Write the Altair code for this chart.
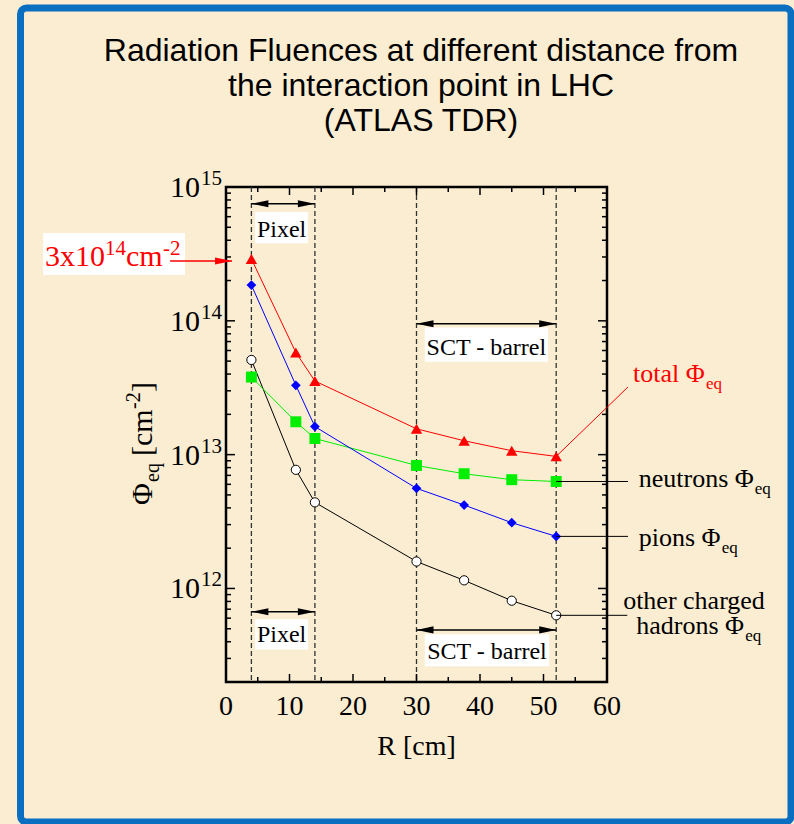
import altair as alt
import pandas as pd

# ---------------- data ----------------
R = [4, 11, 14, 30, 37.5, 45, 52]
total = [2.9e14, 5.8e13, 3.55e13, 1.56e13, 1.27e13, 1.07e13, 9.7e12]
pions = [1.85e14, 3.3e13, 1.62e13, 5.6e12, 4.2e12, 3.1e12, 2.45e12]
neutrons = [3.8e13, 1.76e13, 1.32e13, 8.3e12, 7.2e12, 6.5e12, 6.3e12]
other = [5.1e13, 7.7e12, 4.4e12, 1.59e12, 1.15e12, 8.1e11, 6.3e11]

x_ticks = [0, 10, 20, 30, 40, 50, 60]
x_major_inner = [10, 20, 30, 40, 50]
x_minor = [5, 15, 25, 35, 45, 55]
y_exponents = [12, 13, 14, 15]
y_major = [1e12, 1e13, 1e14]
y_minor = [3e11, 4e11, 5e11, 6e11, 7e11, 8e11, 9e11,
           2e12, 3e12, 4e12, 5e12, 6e12, 7e12, 8e12, 9e12,
           2e13, 3e13, 4e13, 5e13, 6e13, 7e13, 8e13, 9e13,
           2e14, 3e14, 4e14, 5e14, 6e14, 7e14, 8e14, 9e14]
region_edges = [4, 14, 30, 52]

# region arrows: start R, end R, level
arrow_x1 = [4, 4, 30, 30]
arrow_x2 = [14, 14, 52, 52]
arrow_phi = [7.5e14, 6.7e11, 9.5e13, 4.9e11]

# label boxes (R range, phi range) and texts
box_x1 = [4.6, 4.6, 31.3, 31.3]
box_x2 = [12.9, 12.9, 50.7, 50.9]
box_y1 = [3.8e14, 3.5e11, 4.95e13, 2.62e11]
box_y2 = [6.5e14, 5.9e11, 8.9e13, 4.55e11]
box_text = ["Pixel", "Pixel", "SCT - barrel", "SCT - barrel"]
box_tx = [8.75, 8.75, 41.0, 41.1]
box_ty = [4.2e14, 3.95e11, 5.6e13, 2.95e11]

TITLE = ["Radiation Fluences at different distance from",
         "the interaction point in LHC",
         "(ATLAS TDR)"]

W, H = 381, 495
OX, OY = 226, 187
SERIF = "Liberation Serif"
BG = "#FAEDD2"

xs = alt.Scale(domain=[0, 60], nice=False, zero=False)
ys = alt.Scale(type="log", domain=[2e11, 1e15], nice=False)


def X(f):
    return alt.X(f, type="quantitative", scale=xs, axis=None)


def Y(f):
    return alt.Y(f, type="quantitative", scale=ys, axis=None)


def one(**kw):
    return pd.DataFrame([kw])


def note(text, r, phi, size=26, color="black", align="left", dx=0, dy=0):
    return alt.Chart(one(R=r, phi=phi)).mark_text(
        text=text, fontSize=size, color=color, align=align,
        baseline="alphabetic", dx=dx, dy=dy, font=SERIF
    ).encode(x=X("R"), y=Y("phi"))


def pix_text(text, px, py, size, color="black", align="left", angle=0, dx=0, dy=0,
             font=SERIF, **kw):
    props = dict(text=text, fontSize=size, color=color, align=align,
                 baseline="alphabetic", font=font, dx=dx, dy=dy, **kw)
    if angle:
        props["angle"] = angle
    return alt.Chart(one(a=0)).mark_text(**props).encode(
        x=alt.value(px - OX), y=alt.value(py - OY))


layers = []

# outer blue frame of the slide
layers.append(alt.Chart(one(a=0)).mark_rect(
    fillOpacity=0, stroke="#0B6FC1", strokeWidth=7, cornerRadius=6
).encode(x=alt.value(20.5 - OX), x2=alt.value(791 - OX),
         y=alt.value(8 - OY), y2=alt.value(822 - OY)))

# title
layers.append(pix_text(TITLE, 421, 61, 32, align="center",
                       font="Liberation Sans", lineHeight=35))

# dashed region boundaries
layers.append(alt.Chart(pd.DataFrame({"R": region_edges})).mark_rule(
    strokeDash=[5, 3], color="#333333", strokeWidth=1.3
).encode(x=X("R"), y=alt.value(0), y2=alt.value(H)))

# label boxes
boxes = pd.DataFrame({"x1": box_x1, "x2": box_x2, "y1": box_y1, "y2": box_y2,
                      "t": box_text, "tx": box_tx, "ty": box_ty})
layers.append(alt.Chart(boxes).mark_rect(fill="white").encode(
    x=X("x1"), x2=alt.X2("x2"), y=Y("y1"), y2=alt.Y2("y2")))
layers.append(alt.Chart(boxes).mark_text(
    fontSize=24, font=SERIF, color="black", align="center", baseline="alphabetic"
).encode(x=X("tx"), y=Y("ty"), text="t:N"))

# region arrows
arrows = pd.DataFrame({"x1": arrow_x1, "x2": arrow_x2, "phi": arrow_phi})
layers.append(alt.Chart(arrows).mark_rule(color="black", strokeWidth=1.5).encode(
    x=X("x1"), x2=alt.X2("x2"), y=Y("phi")))
LEFT_HEAD = "M -1 0 L 1 -0.42 L 1 0.42 Z"
RIGHT_HEAD = "M 1 0 L -1 -0.42 L -1 0.42 Z"
layers.append(alt.Chart(arrows).mark_point(
    shape=LEFT_HEAD, size=289, filled=True, color="black", opacity=1, xOffset=8.5
).encode(x=X("x1"), y=Y("phi")))
layers.append(alt.Chart(arrows).mark_point(
    shape=RIGHT_HEAD, size=289, filled=True, color="black", opacity=1, xOffset=-8.5
).encode(x=X("x2"), y=Y("phi")))

# series
series_specs = [
    ("other", other, "black", dict(shape="circle", size=85, filled=True,
                                   fill="white", stroke="black", strokeWidth=1)),
    ("neutrons", neutrons, "#00EE00", dict(shape="square", size=120, filled=True,
                                           color="#00EE00")),
    ("pions", pions, "#0000FF", dict(shape="diamond", size=95, filled=True,
                                     color="#0000FF")),
    ("total", total, "#FF0000", dict(shape="triangle-up", size=130, filled=True,
                                     color="#FF0000")),
]
for name, vals, col, mk in series_specs:
    df = pd.DataFrame({"R": R, "phi": vals})
    layers.append(alt.Chart(df).mark_line(color=col, strokeWidth=1).encode(
        x=X("R"), y=Y("phi")))
for name, vals, col, mk in series_specs:
    df = pd.DataFrame({"R": R, "phi": vals})
    layers.append(alt.Chart(df).mark_point(opacity=1, **mk).encode(
        x=X("R"), y=Y("phi")))

# connectors to the right-hand labels
conn = pd.DataFrame({
    "x1": [52, 52, 52, 52],
    "x2": [63.3, 63.3, 63.3, 63.2],
    "y1": [total[-1], neutrons[-1], pions[-1], other[-1]],
    "y2": [3.2e13, neutrons[-1], pions[-1], other[-1]],
    "c": ["red", "black", "black", "black"],
})
layers.append(alt.Chart(conn).mark_rule(strokeWidth=1).encode(
    x=X("x1"), x2=alt.X2("x2"), y=Y("y1"), y2=alt.Y2("y2"),
    color=alt.Color("c:N", scale=None)))

# right-hand labels
layers += [
    note("total Φ", 64.1, 3.5e13, 26, "red"),
    note("eq", 64.1, 3.5e13, 17, "red", dx=73, dy=7),
    note("neutrons Φ", 65.0, 5.77e12),
    note("eq", 65.0, 5.77e12, 17, dx=116, dy=7),
    note("pions Φ", 65.0, 2.06e12),
    note("eq", 65.0, 2.06e12, 17, dx=83, dy=7),
    note("other charged", 73.7, 6.97e11, align="center"),
    note("hadrons Φ", 64.6, 4.54e11),
    note("eq", 64.6, 4.54e11, 17, dx=109, dy=7),
]

# red 3x10^14 annotation
layers.append(alt.Chart(one(x1=-28.8, x2=-6.46, y1=2.2e14, y2=4.54e14)).mark_rect(
    fill="white").encode(x=X("x1"), x2=alt.X2("x2"), y=Y("y1"), y2=alt.Y2("y2")))
layers += [
    note("3x10", -28.5, 2.57e14, 30, "red"),
    note("14", -28.5, 2.57e14, 21, "red", dx=60, dy=-11),
    note("cm", -28.5, 2.57e14, 30, "red", dx=81),
    note("-2", -28.5, 2.57e14, 21, "red", dx=118, dy=-11),
]
red_arrow = pd.DataFrame({"x1": [-8.8], "x2": [0.95], "phi": [2.8e14]})
layers.append(alt.Chart(red_arrow).mark_rule(color="red", strokeWidth=1.3).encode(
    x=X("x1"), x2=alt.X2("x2"), y=Y("phi")))
layers.append(alt.Chart(red_arrow).mark_point(
    shape=RIGHT_HEAD, size=289, filled=True, color="red", opacity=1, xOffset=-8.5
).encode(x=X("x2"), y=Y("phi")))

# inward ticks (all four sides)
ymaj = pd.DataFrame({"v": y_major})
ymin = pd.DataFrame({"v": y_minor})
xmaj = pd.DataFrame({"v": x_major_inner})
xmin = pd.DataFrame({"v": x_minor})
for d, L in ((ymaj, 9), (ymin, 5)):
    layers.append(alt.Chart(d).mark_rule(color="black", strokeWidth=1.5).encode(
        y=Y("v"), x=alt.value(0), x2=alt.value(L)))
    layers.append(alt.Chart(d).mark_rule(color="black", strokeWidth=1.5).encode(
        y=Y("v"), x=alt.value(W - L), x2=alt.value(W)))
for d, L in ((xmaj, 8), (xmin, 5)):
    layers.append(alt.Chart(d).mark_rule(color="black", strokeWidth=1.5).encode(
        x=X("v"), y=alt.value(H - L), y2=alt.value(H)))
    layers.append(alt.Chart(d).mark_rule(color="black", strokeWidth=1.5).encode(
        x=X("v"), y=alt.value(0), y2=alt.value(L)))

# tick labels
ylab = pd.DataFrame({"v": [10.0 ** e for e in y_exponents],
                     "e": [str(e) for e in y_exponents]})
layers.append(alt.Chart(ylab).mark_text(
    text="10", fontSize=30, font=SERIF, align="right", baseline="alphabetic", dy=10
).encode(y=Y("v"), x=alt.value(-26)))
layers.append(alt.Chart(ylab).mark_text(
    fontSize=21, font=SERIF, align="left", baseline="alphabetic", dy=-2
).encode(y=Y("v"), x=alt.value(-25), text="e:N"))
xlab = pd.DataFrame({"v": x_ticks})
layers.append(alt.Chart(xlab).mark_text(
    fontSize=28, font=SERIF, align="center", baseline="alphabetic"
).encode(x=X("v"), y=alt.value(H + 33), text="v:Q"))

# axis titles
layers.append(pix_text("R [cm]", OX + W / 2, 755, 28, align="center"))
YT_X, YT_Y = 152, 505
layers += [
    pix_text("Φ", YT_X, YT_Y, 30, angle=270),
    pix_text("eq", YT_X, YT_Y, 20, angle=270, dx=23, dy=7),
    pix_text("[cm", YT_X, YT_Y, 30, angle=270, dx=49),
    pix_text("-2", YT_X, YT_Y, 20, angle=270, dx=96, dy=-12),
    pix_text("]", YT_X, YT_Y, 30, angle=270, dx=113),
]

chart = alt.layer(*layers).properties(
    width=W, height=H,
    padding={"left": OX, "top": OY, "right": 794 - OX - W, "bottom": 824 - OY - H},
    autosize=alt.AutoSizeParams(type="none"),
    background=BG,
).configure_view(stroke="black", strokeWidth=2.5)

chart.save("out.html", embed_options={"renderer": "svg", "actions": False})
